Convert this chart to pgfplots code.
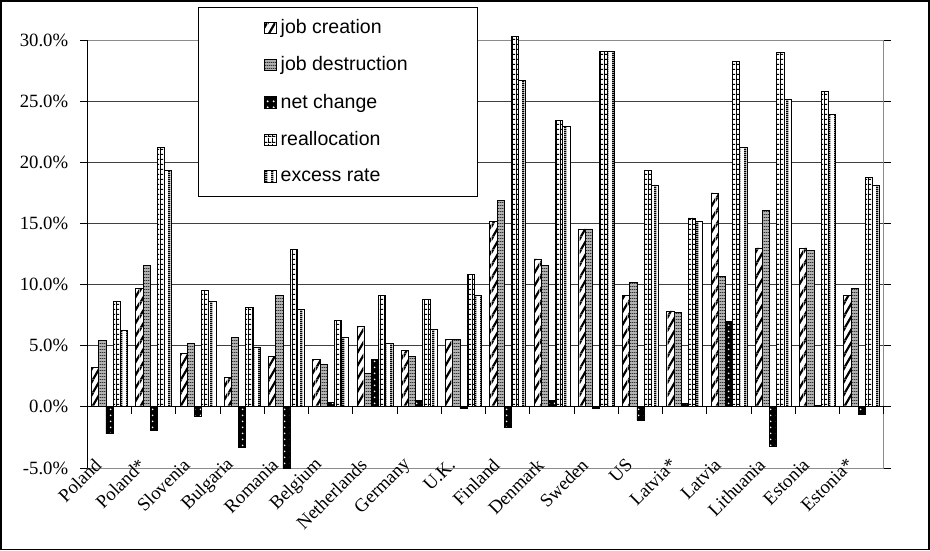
\documentclass[border=0pt]{standalone}
\usepackage{pgfplots}
\pgfplotsset{compat=1.18}
\usepackage{pgfplotstable}
\usetikzlibrary{patterns}
\usepackage{fontspec}
\setmainfont{Liberation Serif}
\newfontfamily\legfont{Liberation Sans}

% diagonal stripes (about 60 degrees), filled polygons inside the tile
\pgfdeclarepatternformonly{jcp}{\pgfpointorigin}{\pgfqpoint{3.8pt}{6.6pt}}{\pgfqpoint{3.8pt}{6.6pt}}{%
  \pgfpathmoveto{\pgfpointorigin}%
  \pgfpathlineto{\pgfqpoint{1.3pt}{0pt}}%
  \pgfpathlineto{\pgfqpoint{3.8pt}{4.34pt}}%
  \pgfpathlineto{\pgfqpoint{3.8pt}{6.6pt}}%
  \pgfpathclose
  \pgfpathmoveto{\pgfqpoint{0pt}{4.34pt}}%
  \pgfpathlineto{\pgfqpoint{1.3pt}{6.6pt}}%
  \pgfpathlineto{\pgfqpoint{0pt}{6.6pt}}%
  \pgfpathclose
  \pgfusepath{fill}}
% horizontal lines
\pgfdeclarepatternformonly{jdp}{\pgfpointorigin}{\pgfqpoint{1pt}{1.4pt}}{\pgfqpoint{1pt}{1.4pt}}{%
  \pgfpathrectangle{\pgfpointorigin}{\pgfqpoint{1pt}{0.5pt}}\pgfusepath{fill}}
% dots
\pgfdeclarepatternformonly{ncp}{\pgfpointorigin}{\pgfqpoint{3pt}{3pt}}{\pgfqpoint{3pt}{3pt}}{%
  \pgfpathcircle{\pgfqpoint{1.5pt}{1.5pt}}{0.55pt}\pgfusepath{fill}}
% grid
\pgfdeclarepatternformonly{rap}{\pgfpointorigin}{\pgfqpoint{1.75pt}{2.7pt}}{\pgfqpoint{1.75pt}{2.7pt}}{%
  \pgfpathrectangle{\pgfpointorigin}{\pgfqpoint{1.75pt}{0.55pt}}%
  \pgfpathrectangle{\pgfpointorigin}{\pgfqpoint{0.5pt}{2.7pt}}\pgfusepath{fill}}
% vertical stripes
\pgfdeclarepatternformonly{exp}{\pgfpointorigin}{\pgfqpoint{3pt}{1pt}}{\pgfqpoint{3pt}{1pt}}{%
  \pgfpathrectangle{\pgfpointorigin}{\pgfqpoint{1.3pt}{1pt}}\pgfusepath{fill}}

\pgfplotsset{leg/.style={legend image code/.code={\draw[#1] (0pt,-2.8pt) rectangle (5.8pt,2.8pt);}}}

\pgfplotstableread{
x jc jd net re ex
0 3.2 5.4 -2.2 8.6 6.25
1 9.7 11.6 -1.9 21.2 19.35
2 4.4 5.2 -0.8 9.55 8.6
3 2.4 5.7 -3.3 8.15 4.9
4 4.1 9.1 -5.0 12.9 8.0
5 3.85 3.5 0.35 7.05 5.65
6 6.6 2.7 3.85 9.1 5.2
7 4.6 4.1 0.5 8.8 6.3
8 5.5 5.5 -0.1 10.8 9.1
9 15.2 16.9 -1.7 30.3 26.7
10 12.1 11.6 0.5 23.4 22.95
11 14.55 14.55 -0.1 29.05 29.05
12 9.1 10.2 -1.1 19.35 18.15
13 7.85 7.7 0.3 15.45 15.2
14 17.5 10.65 7.0 28.25 21.25
15 13.0 16.1 -3.2 29.0 25.15
16 13.0 12.8 0.15 25.8 23.9
17 9.1 9.7 -0.6 18.75 18.15
}\data

\begin{document}
\begin{tikzpicture}
\begin{axis}[
  name=ax,
  scale only axis,
  width=395.5pt, height=212.5pt,
  xmin=-0.5, xmax=17.5, ymin=-5, ymax=30,
  ybar=0pt, bar width=0.162,
  every axis plot post/.append style={leg},
  clip=false,
  axis line style={black!45},
  ytick={-5,0,5,10,15,20,25,30},
  yticklabel={\pgfmathprintnumber[fixed,fixed zerofill,precision=1]{\tick}\%},
  /pgf/number format/assume math mode=true,
  ymajorgrids,
  grid style={black!75, line width=0.5pt},
  tick align=outside,
  major tick length=3.5pt,
  ytick style={black, line width=0.5pt},
  xtick style={draw=none},
  xtick={0,...,17},
  xticklabels={Poland,Poland*,Slovenia,Bulgaria,Romania,Belgium,Netherlands,Germany,U.K.,Finland,Denmark,Sweden,US,Latvia*,Latvia,Lithuania,Estonia,Estonia*},
  ticklabel style={font=\fontsize{9.3}{11}\selectfont},
  yticklabel style={xshift=-2.5pt},
  xticklabel style={xshift=-3.2pt, yshift=9pt, rotate=45, anchor=east},
  legend style={at={(0.1391,1.078)}, anchor=north west, draw=black, line width=0.5pt,
    font=\legfont\fontsize{9.7}{11}\selectfont, inner xsep=32.5pt, inner ysep=4pt,
    row sep=6pt, cells={anchor=west}},
  legend cell align=left,
]
\addplot[draw=black, line width=0.4pt, fill=white,
  postaction={pattern=jcp, pattern color=black}]
  table[x=x,y=jc]{\data};
\addplot[draw=black, line width=0.4pt, fill=black!30,
  postaction={pattern=jdp, pattern color=black!80}]
  table[x=x,y=jd]{\data};
\addplot[draw=black, line width=0.4pt, fill=black,
  postaction={pattern=ncp, pattern color=white}]
  table[x=x,y=net]{\data};
\addplot[draw=black, line width=0.4pt, fill=white,
  postaction={pattern=rap, pattern color=black}]
  table[x=x,y=re]{\data};
\addplot[draw=black, line width=0.4pt, fill=white,
  postaction={pattern=exp, pattern color=black}]
  table[x=x,y=ex]{\data};
\legend{job creation, job destruction, net change, reallocation, excess rate}
\draw[black, line width=0.6pt] (axis cs:-0.5,0) -- (axis cs:17.5,0);
\pgfplotsinvokeforeach{0,...,17}{\draw[black, line width=0.5pt] (axis cs:#1+0.5,0) -- ++(0pt,-3.5pt);}
\end{axis}
\draw[black, line width=0.6pt] (ax.south west) -- (ax.north west);
\draw[black, line width=0.8pt] ([shift={(-43pt,-40.5pt)}]ax.south west) rectangle ([shift={(22.5pt,19.5pt)}]ax.north east);
\end{tikzpicture}
\end{document}
